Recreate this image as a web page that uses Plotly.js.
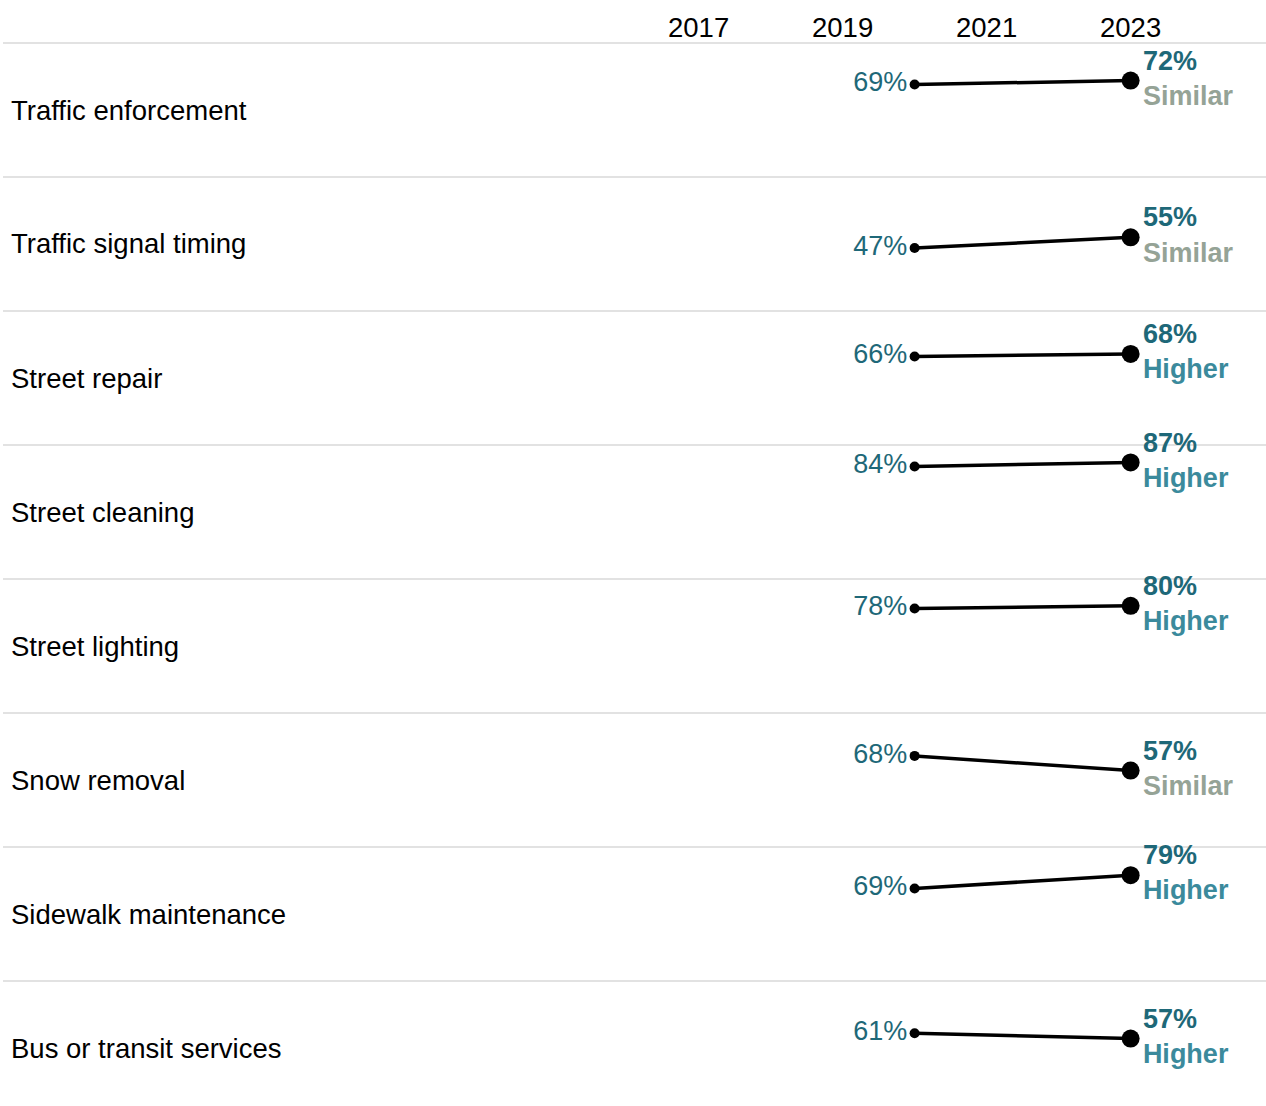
<!DOCTYPE html>
<html>
<head>
<meta charset="utf-8">
<script src="https://cdn.plot.ly/plotly-3.0.1.min.js"></script>
<style>html,body{margin:0;padding:0;background:#fff;}#chart{width:1266px;height:1106px;}</style>
</head>
<body>
<div id="chart"></div>
<script>
const categories = ["Traffic enforcement","Traffic signal timing","Street repair","Street cleaning","Street lighting","Snow removal","Sidewalk maintenance","Bus or transit services"];
const years = [2020, 2023];
const prior = [69, 47, 66, 84, 78, 68, 69, 61];
const latest = [72, 55, 68, 87, 80, 57, 79, 57];
const comparison = ["Similar","Similar","Higher","Higher","Higher","Similar","Higher","Higher"];
const tickYears = [2017, 2019, 2021, 2023];

const FONT = "Arial, 'Liberation Sans', Helvetica, sans-serif";
const TEAL = "#1e6878";
const CMP_COLOR = {Similar: "#95a396", Higher: "#3b8a9c"};

const W = 1266, H = 1106, MT = 43, ML = 3;
const rowPx = 134;
const plotH = H - MT;
const frac = rowPx / plotH;

const traces = [];
const layout = {
  width: W, height: H,
  margin: {l: ML, r: 0, t: MT, b: 0, pad: 0},
  paper_bgcolor: "#fff", plot_bgcolor: "rgba(0,0,0,0)",
  showlegend: false,
  font: {family: FONT, size: 27, color: "#000"},
  xaxis: {
    range: [2007.34, 2024.88],
    side: "top", anchor: "y",
    tickvals: tickYears, ticktext: tickYears.map(String),
    showgrid: false, zeroline: false, showline: false, ticks: "",
    tickfont: {family: FONT, size: 27.5, color: "#000"},
    fixedrange: true
  },
  shapes: [], annotations: []
};

categories.forEach((cat, i) => {
  const yName = i === 0 ? "y" : "y" + (i + 1);
  const axKey = i === 0 ? "yaxis" : "yaxis" + (i + 1);
  const top = 1 - i * frac;
  let bottom = top - frac;
  let range = [0, 100];
  if (bottom < 0) { range = [100 * (-bottom / frac), 100]; bottom = 0; }
  layout[axKey] = {
    domain: [bottom, top], range: range,
    showgrid: false, zeroline: false, showline: false, showticklabels: false, ticks: "",
    fixedrange: true
  };
  const endText = "<b>" + latest[i] + "%</b><br><span style=\"color:" + CMP_COLOR[comparison[i]] + "\"><b>" + comparison[i] + "</b></span>";
  traces.push({
    type: "scatter", mode: "lines+markers+text",
    x: years, y: [prior[i], latest[i]], yaxis: yName, xaxis: "x",
    line: {color: "#000", width: 3.5},
    marker: {color: "#000", size: [10, 18], opacity: 1, line: {width: 0, color: "#000"}},
    text: [prior[i] + "%", endText],
    textposition: ["middle left", "middle right"],
    textfont: {family: FONT, size: 27, color: TEAL},
    hoverinfo: "skip", cliponaxis: false
  });
  layout.shapes.push({
    type: "line", xref: "paper", yref: yName + " domain",
    x0: 0, x1: 1, y0: 1, y1: 1,
    line: {color: "#d9d9d9", width: 1.5}, layer: "below"
  });
  layout.annotations.push({
    text: cat, xref: "paper", yref: yName, x: (9 - ML) / (W - ML), y: 50,
    xanchor: "left", yanchor: "middle", showarrow: false,
    font: {family: FONT, size: 27.5, color: "#000"}
  });
});

Plotly.newPlot("chart", traces, layout, {displayModeBar: false, staticPlot: true});
</script>
</body>
</html>
